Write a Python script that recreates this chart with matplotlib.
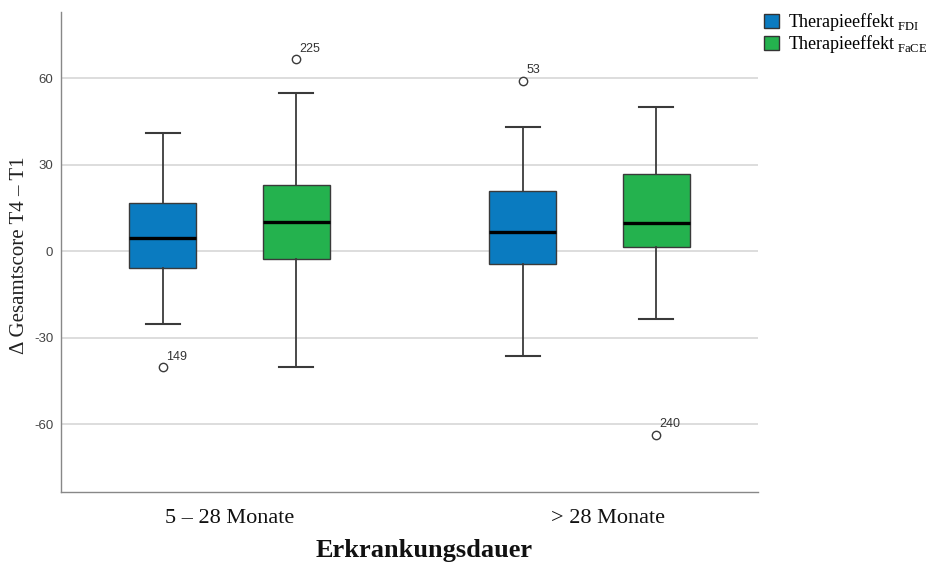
import matplotlib
matplotlib.use("Agg")
import matplotlib.pyplot as plt
from matplotlib.patches import Patch
from matplotlib.transforms import ScaledTranslation

plt.rcParams['mathtext.fontset'] = 'custom'
plt.rcParams['mathtext.rm'] = 'Liberation Serif'

# Werte (Delta Gesamtscore T4 - T1)
groups = ['5 – 28 Monate', '> 28 Monate']
series = ['FDI', 'FaCE']
colors = ['#0a7bc0', '#24b24e']

# je Serie: eine Zahl pro Gruppe
q1 = {'FDI': [-5.7, -4.3], 'FaCE': [-2.7, 1.4]}
med = {'FDI': [4.7, 6.8], 'FaCE': [10.0, 9.9]}
q3 = {'FDI': [16.6, 20.8], 'FaCE': [23.0, 26.7]}
whis_lo = {'FDI': [-25.3, -36.2], 'FaCE': [-40.3, -23.6]}
whis_hi = {'FDI': [40.9, 43.0], 'FaCE': [55.0, 49.9]}
outliers = {'FDI': [[-40.3], [59.1]], 'FaCE': [[66.6], [-63.7]]}
outlier_ids = {'FDI': [['149'], ['53']], 'FaCE': [['225'], ['240']]}

yticks = [-60, -30, 0, 30, 60]

fig = plt.figure(figsize=(9.46, 5.65), dpi=100)
ax = fig.add_axes([61 / 946, 73 / 565, 697 / 946, 480 / 565])

offset = 0.185
width = 0.186
for k, s in enumerate(series):
    stats = []
    for g in range(len(groups)):
        stats.append({'q1': q1[s][g], 'med': med[s][g], 'q3': q3[s][g],
                      'whislo': whis_lo[s][g], 'whishi': whis_hi[s][g],
                      'fliers': outliers[s][g]})
    pos = [g + (k - 0.5) * 2 * offset for g in range(len(groups))]
    ax.bxp(stats, positions=pos, widths=width, patch_artist=True,
           showfliers=True, capwidths=width / 2,
           boxprops=dict(facecolor=colors[k], edgecolor='#3a3a3a', linewidth=1.0),
           medianprops=dict(color='black', linewidth=2.4),
           whiskerprops=dict(color='#3a3a3a', linewidth=1.3),
           capprops=dict(color='#3a3a3a', linewidth=1.5),
           flierprops=dict(marker='o', markersize=6, markerfacecolor='white',
                           markeredgecolor='#3a3a3a', markeredgewidth=1.0),
           zorder=3)
    for g in range(len(groups)):
        for val, lab in zip(outliers[s][g], outlier_ids[s][g]):
            ax.annotate(lab, (pos[g], val), xytext=(2.5, 5.5),
                        textcoords='offset points', ha='left', va='baseline',
                        fontsize=9, family='Liberation Sans', color='#333333')

ax.set_xlim(-0.468, 1.468)
ax.set_ylim(-83.5, 83.0)
ax.set_yticks(yticks)
ax.set_yticklabels([str(v) for v in yticks], family='Liberation Sans',
                   fontsize=9.5, color='#444444')
ax.yaxis.grid(True, color='#d3d3d3', linewidth=1.1, zorder=0)
ax.set_axisbelow(True)
ax.tick_params(axis='both', length=0)
ax.tick_params(axis='y', pad=5.5)
ax.tick_params(axis='x', pad=12)

ax.set_xticks(range(len(groups)))
ax.set_xticklabels(groups, family='Liberation Serif', fontsize=16, color='#111111')
# zweite Beschriftung sitzt im Original etwas weiter rechts
lbl = ax.get_xticklabels()[1]
lbl.set_transform(lbl.get_transform() + ScaledTranslation(0.18, 0, fig.dpi_scale_trans))

for side in ['top', 'right']:
    ax.spines[side].set_visible(False)
for side in ['left', 'bottom']:
    ax.spines[side].set_color('#888888')
    ax.spines[side].set_linewidth(1.0)

fig.text(424 / 946, 1 - 550 / 565, 'Erkrankungsdauer', ha='center', va='center',
         family='Liberation Serif', fontweight='bold', fontsize=19, color='#111111')
fig.text(20 / 946, 1 - 255 / 565, 'Δ Gesamtscore T4 – T1', ha='center', va='center',
         rotation=90, family='Liberation Serif', fontsize=15, color='#222222')

handles = [Patch(facecolor=colors[k], edgecolor='#333333', linewidth=1.0)
           for k in range(len(series))]
labels = ['Therapieeffekt$\\,_{\\mathrm{' + s + '}}$' for s in series]
fig.legend(handles, labels, loc='upper left', bbox_to_anchor=(757 / 946, 1 - 4 / 565),
           frameon=False, prop={'family': 'Liberation Serif', 'size': 13},
           handlelength=0.8, handleheight=0.8, handletextpad=0.5,
           labelspacing=0.0, borderaxespad=0.0)

fig.savefig('out.png', dpi=100)
